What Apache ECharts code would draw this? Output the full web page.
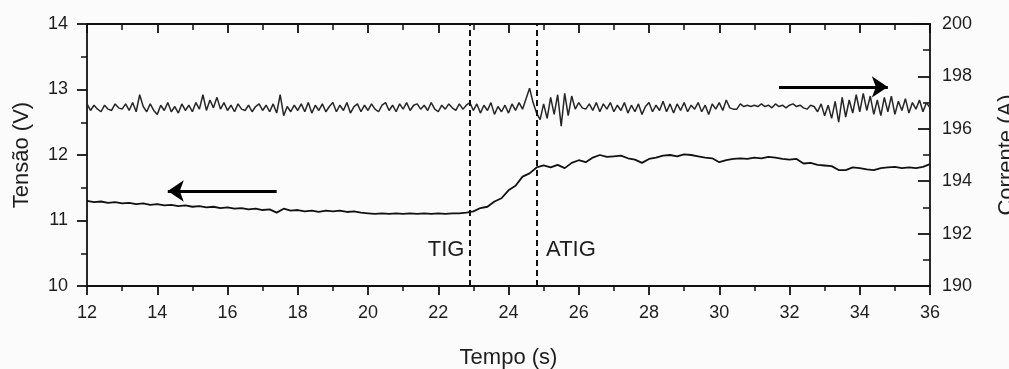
<!DOCTYPE html>
<html>
<head>
<meta charset="utf-8">
<script src="https://cdn.jsdelivr.net/npm/echarts@6/dist/echarts.min.js"></script>
<style>
html,body{margin:0;padding:0;background:#fbfbfb;}
#c{width:1009px;height:369px;}
</style>
</head>
<body>
<div id="c"></div>
<script>
// ---- data ----
const timeStartCurrent = 12.0;
const timeStepCurrent = 0.1;
const timeStartVoltage = 12.0;
const timeStepVoltage = 0.2;

// Corrente (A), one value per 0.1 s from 12.0 to 36.0 s
const currentA = [
  196.95,196.7,196.9,196.75,196.65,196.9,196.75,196.7,196.95,196.8,
  196.75,196.95,196.7,197.0,196.65,197.3,196.85,196.65,196.95,196.7,
  196.55,196.9,196.7,197.0,196.65,196.85,196.6,196.95,196.7,196.9,
  196.65,197.0,196.75,197.3,196.7,197.1,196.8,197.2,196.75,197.0,
  196.7,196.9,196.65,196.95,196.75,196.7,196.9,196.65,196.85,196.95,
  196.7,196.9,196.65,196.95,196.6,197.3,196.5,196.85,196.65,196.9,
  196.7,196.95,196.65,197.0,196.6,196.9,196.7,196.95,196.65,196.85,
  197.0,196.65,196.9,196.7,197.0,196.6,196.85,196.95,196.65,196.9,
  196.7,196.95,196.75,196.65,196.9,197.0,196.7,196.9,196.65,196.95,
  196.75,197.0,196.7,196.9,196.95,196.75,196.9,196.7,197.0,196.75,
  196.65,196.9,196.75,196.95,196.8,196.7,196.95,196.75,196.9,197.0,
  196.7,196.95,196.6,196.9,196.7,197.0,196.55,196.85,196.65,196.9,
  196.6,196.95,196.7,197.0,196.75,197.15,197.55,197.0,196.6,196.35,
  196.95,196.4,197.2,196.55,197.3,196.1,197.35,196.5,197.25,196.75,
  197.0,196.8,196.75,196.95,196.7,197.0,196.65,196.95,196.75,197.0,
  196.65,196.9,196.7,197.0,196.6,196.9,196.65,196.95,196.55,196.85,
  197.0,196.65,196.9,196.7,197.05,196.65,196.95,196.6,196.95,196.7,
  197.0,196.65,196.9,196.75,197.0,196.65,196.9,196.55,196.95,196.75,
  197.0,196.7,197.1,196.8,196.75,196.75,196.95,196.85,196.9,196.85,
  196.9,196.85,196.95,196.85,196.9,196.8,196.95,196.85,196.9,196.8,
  196.9,196.95,196.85,196.9,196.8,196.75,196.9,196.85,196.65,196.95,
  196.5,196.9,196.4,197.05,196.25,197.2,196.45,197.1,196.6,197.3,
  196.65,197.35,196.7,197.25,196.55,197.1,196.5,197.2,196.65,197.25,
  196.55,197.05,196.7,197.15,196.6,197.0,196.75,197.1,196.65,197.0,
  196.8
];

// Tensão (V), one value per 0.2 s from 12.0 to 36.0 s
const voltageV = [
  11.30,11.28,11.29,11.27,11.28,11.26,11.27,11.25,11.26,11.24,
  11.25,11.23,11.24,11.22,11.23,11.21,11.22,11.20,11.21,11.19,
  11.20,11.18,11.19,11.17,11.18,11.16,11.17,11.12,11.18,11.15,
  11.16,11.14,11.15,11.13,11.15,11.14,11.15,11.13,11.14,11.12,
  11.11,11.10,11.11,11.10,11.11,11.10,11.11,11.10,11.11,11.10,
  11.11,11.10,11.11,11.11,11.12,11.14,11.19,11.21,11.29,11.34,
  11.46,11.53,11.67,11.72,11.81,11.84,11.81,11.85,11.80,11.88,
  11.92,11.89,11.96,12.00,11.97,11.98,11.99,11.95,11.93,11.88,
  11.94,11.96,11.99,12.00,11.98,12.01,12.00,11.98,11.96,11.95,
  11.89,11.92,11.94,11.95,11.94,11.96,11.95,11.97,11.96,11.94,
  11.93,11.94,11.87,11.88,11.85,11.84,11.83,11.77,11.77,11.81,
  11.80,11.78,11.77,11.80,11.81,11.82,11.80,11.81,11.80,11.82,
  11.86
];

const markerTimes = [22.9, 24.8];
const markerNames = ['TIG', 'ATIG'];
const markerLabelLevel = 10.55;

const leftArrow = {from: [17.4, 11.45], to: [14.3, 11.45]};
const rightArrow = {from: [31.7, 197.6], to: [34.8, 197.6]};

const xAxisName = 'Tempo (s)';
const yLeftName = 'Tensão (V)';
const yRightName = 'Corrente (A)';

// ---- build ----
const currentData = currentA.map((v, i) => [+(timeStartCurrent + i * timeStepCurrent).toFixed(2), v]);
const voltageData = voltageV.map((v, i) => [+(timeStartVoltage + i * timeStepVoltage).toFixed(2), v]);

const FONT = '"Liberation Sans", Arial, Helvetica, sans-serif';
const TXT = '#1e1e1e';
const AX = '#111';

const chart = echarts.init(document.getElementById('c'), null, {renderer: 'canvas'});
chart.setOption({
  backgroundColor: '#fbfbfb',
  animation: false,
  textStyle: {fontFamily: FONT, color: TXT},
  grid: {left: 87, right: 79, top: 24, bottom: 83, containLabel: false, outerBoundsMode: 'none'},
  xAxis: [
    {
      type: 'value', position: 'bottom', min: 12, max: 36, interval: 2,
      name: xAxisName, nameLocation: 'middle', nameGap: 61,
      nameTextStyle: {fontSize: 22, color: TXT, fontFamily: FONT},
      axisLine: {show: true, onZero: false, lineStyle: {color: AX, width: 1.8}},
      axisTick: {show: true, inside: false, length: 9, lineStyle: {color: AX, width: 1.8}},
      minorTick: {show: true, splitNumber: 2, length: 5, lineStyle: {color: AX, width: 1.5}},
      axisLabel: {fontSize: 18, color: TXT, margin: 18, fontFamily: FONT},
      splitLine: {show: false}
    },
    {
      type: 'value', position: 'top', min: 12, max: 36, interval: 2,
      axisLine: {show: true, onZero: false, lineStyle: {color: AX, width: 1.8}},
      axisTick: {show: true, inside: true, length: 9, lineStyle: {color: AX, width: 1.8}},
      minorTick: {show: true, splitNumber: 2, length: 6, lineStyle: {color: AX, width: 1.5}},
      axisLabel: {show: false},
      splitLine: {show: false}
    }
  ],
  yAxis: [
    {
      type: 'value', position: 'left', min: 10, max: 14, interval: 1,
      name: yLeftName, nameLocation: 'middle', nameGap: 54, nameRotate: 90,
      nameTextStyle: {fontSize: 22, color: TXT, fontFamily: FONT},
      axisLine: {show: true, onZero: false, lineStyle: {color: AX, width: 1.8}},
      axisTick: {show: true, inside: false, length: 10, lineStyle: {color: AX, width: 1.8}},
      minorTick: {show: true, splitNumber: 2, length: 6, lineStyle: {color: AX, width: 1.5}},
      axisLabel: {fontSize: 18, color: TXT, margin: 19, fontFamily: FONT},
      splitLine: {show: false}
    },
    {
      type: 'value', position: 'right', min: 190, max: 200, interval: 2,
      name: yRightName, nameLocation: 'middle', nameGap: 66, nameRotate: 90,
      nameTextStyle: {fontSize: 22, color: TXT, fontFamily: FONT},
      axisLine: {show: true, onZero: false, lineStyle: {color: AX, width: 1.8}},
      axisTick: {show: true, inside: true, length: 12, lineStyle: {color: AX, width: 1.8}},
      minorTick: {show: true, splitNumber: 2, length: 7, lineStyle: {color: AX, width: 1.5}},
      axisLabel: {fontSize: 18, color: TXT, margin: 12, fontFamily: FONT},
      splitLine: {show: false}
    }
  ],
  series: [
    {
      name: 'Corrente', type: 'line', xAxisIndex: 0, yAxisIndex: 1,
      data: currentData, showSymbol: false, symbol: 'none',
      lineStyle: {color: '#262626', width: 1.5}, z: 3,
      markLine: {
        silent: true, symbol: 'none',
        lineStyle: {color: '#000', width: 3, type: 'solid'},
        label: {show: false},
        data: [[{coord: rightArrow.from, symbol: 'none'}, {coord: rightArrow.to, symbol: 'arrow', symbolSize: 16}]]
      }
    },
    {
      name: 'Tensão', type: 'line', xAxisIndex: 0, yAxisIndex: 0,
      data: voltageData, showSymbol: false, symbol: 'none',
      lineStyle: {color: '#111', width: 1.8}, z: 3,
      markLine: {
        silent: true, symbol: ['none', 'none'],
        label: {show: false},
        lineStyle: {color: '#111', width: 2, type: [6, 4]},
        data: markerTimes.map(t => ({xAxis: t}))
          .concat([[{coord: leftArrow.from, lineStyle: {type: 'solid', width: 3, color: '#000'}, symbol: 'none'},
                    {coord: leftArrow.to, symbol: 'arrow', symbolSize: 16}]])
      },
      markPoint: {
        silent: true, symbol: 'circle', symbolSize: 1,
        itemStyle: {color: 'rgba(0,0,0,0)'},
        data: [
          {coord: [markerTimes[0], markerLabelLevel],
           label: {show: true, position: 'left', distance: 5, formatter: markerNames[0], fontSize: 22, color: TXT, fontFamily: FONT}},
          {coord: [markerTimes[1], markerLabelLevel],
           label: {show: true, position: 'right', distance: 9, formatter: markerNames[1], fontSize: 22, color: TXT, fontFamily: FONT}}
        ]
      }
    }
  ]
});
</script>
</body>
</html>
